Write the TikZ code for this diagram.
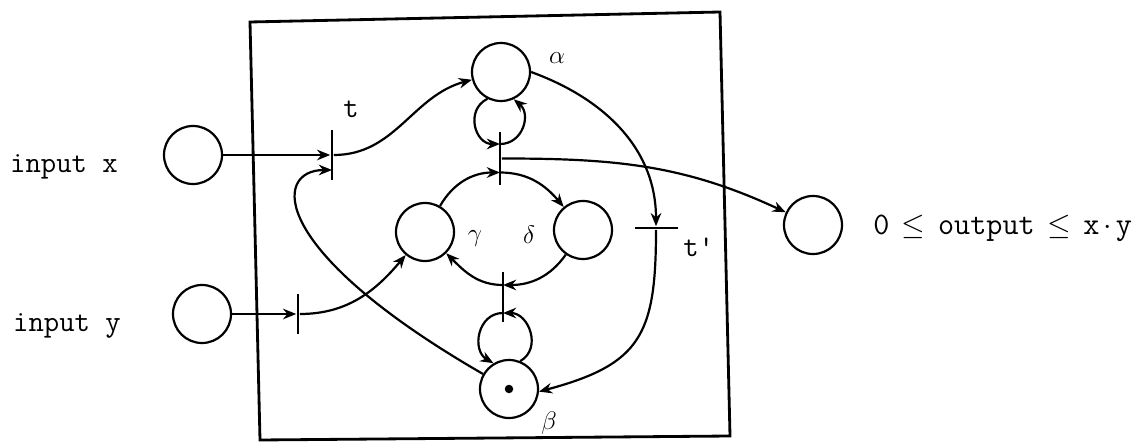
\documentclass[tikz,border=0pt]{standalone}
\usepackage{amsmath,amssymb}
\usepackage{tikz}
\usetikzlibrary{arrows.meta}
\usetikzlibrary{backgrounds,calc}
\pgfdeclarelayer{edgelayer}
\pgfdeclarelayer{nodelayer}
\pgfsetlayers{background,edgelayer,nodelayer,main}
\tikzstyle{none}=[inner sep=0mm]
\tikzstyle{place}=[shape=circle,draw=black,line width=1.25pt,minimum size=1.16cm,inner sep=0pt]
\tikzstyle{token}=[shape=circle,fill=black,minimum size=0.17cm,inner sep=0pt]
\tikzstyle{vbar}=[shape=rectangle,fill=black,minimum width=1.6pt,minimum height=1cm,inner sep=0pt]
\tikzstyle{hbar}=[shape=rectangle,fill=black,minimum height=1.6pt,minimum width=0.86cm,inner sep=0pt]
\tikzstyle{flow}=[line width=1.25pt]
\tikzstyle{diredge}=[flow,-{Stealth[length=7.5pt,width=6pt]}]
\tikzstyle{frame}=[line width=1.6pt,line join=miter]
\tikzstyle{tt}=[inner sep=0pt,font=\fontsize{17}{20}\ttfamily]
\tikzstyle{gk}=[inner sep=0pt,font=\fontsize{14}{16}\selectfont]
\newcommand{\lesym}{\makebox[0.525em]{$\le$}}
\newcommand{\dotsym}{\makebox[0.525em]{$\cdot$}}

\begin{document}
\begin{tikzpicture}
	\useasboundingbox (0,0) rectangle (22.72,-8.9);
	\begin{pgfonlayer}{nodelayer}
		% places
		\node [style=place] (inx) at (3.86, -3.10) {};
		\node [style=place] (iny) at (4.04, -6.28) {};
		\node [style=place] (alpha) at (10.02, -1.44) {};
		\node [style=place] (gamma) at (8.50, -4.64) {};
		\node [style=place] (delta) at (11.66, -4.60) {};
		\node [style=place] (beta) at (10.18, -7.78) {};
		\node [style=place] (outp) at (16.26, -4.50) {};
		\node [style=token] (tok) at (10.18, -7.78) {};
		% transitions
		\node [style=vbar] (t) at (6.64, -3.10) {};
		\node [style=vbar, minimum height=0.8cm] (ty) at (5.96, -6.28) {};
		\node [style=vbar, minimum height=1.06cm] (T1) at (10.00, -3.17) {};
		\node [style=vbar] (T2) at (10.06, -5.94) {};
		\node [style=hbar] (tp) at (13.12, -4.56) {};
		% labels
		\node [style=tt, anchor=base] (lx) at (1.28, -3.46) {input x};
		\node [style=tt, anchor=base] (ly) at (1.34, -6.64) {input y};
		\node [style=tt, font=\fontsize{17.8}{20}\ttfamily, anchor=base west] (lout) at (17.46, -4.70) {0 \lesym{} output \lesym{} x\dotsym{}y};
		\node [style=tt, anchor=base] (lt) at (7.02, -2.36) {t};
		\node [style=tt, anchor=base west] (ltp) at (13.66, -5.14) {t'};
		\node [style=gk] (la) at (11.14, -1.16) {$\alpha$};
		\node [style=gk] (lg) at (9.50, -4.78) {$\gamma$};
		\node [style=gk] (ld) at (10.58, -4.70) {$\delta$};
		\node [style=gk] (lb) at (10.98, -8.46) {$\beta$};
	\end{pgfonlayer}
	\begin{pgfonlayer}{edgelayer}
		\draw [style=frame] (5.00, -0.44) -- (14.40, -0.24) -- (14.60, -8.72) -- (5.20, -8.80) -- cycle;
		\draw [style=diredge] (inx) to (t);
		\draw [style=diredge] (iny) to (ty);
		\draw [style=diredge, out=0, in=195] (t) to (alpha);
		\draw [style=diredge, out=0, in=230] (ty) to (gamma);
		\draw [style=diredge, out=150, in=180, out looseness=2.5, in looseness=0.6] (beta) to ([yshift=-0.3cm]t.center);
		\draw [style=diredge, out=60, in=180] (gamma) to ([yshift=-0.28cm]T1.center);
		\draw [style=diredge, out=0, in=130] ([yshift=-0.28cm]T1.center) to (delta);
		\draw [style=diredge, out=235, in=0] (delta) to ([yshift=0.24cm]T2.center);
		\draw [style=diredge, out=180, in=315] ([yshift=0.24cm]T2.center) to (gamma);
		% self loops
		\draw [style=diredge, out=207, in=180, looseness=1.37] (alpha.243) to ([yshift=0.29cm]T1.center);
		\draw [style=diredge, out=0, in=320, looseness=1.26] ([yshift=0.29cm]T1.center) to (alpha.295);
		\draw [style=diredge, out=180, in=150, looseness=1.28] ([yshift=-0.32cm]T2.center) to (beta.121);
		\draw [style=diredge, out=30, in=0, looseness=1.28] (beta.68) to ([yshift=-0.32cm]T2.center);
		\draw [style=diredge, out=340, in=90, looseness=1.0] (alpha.0) to (tp);
		\draw [style=diredge, out=270, in=15, looseness=1.35] (tp) to (beta.355);
		\draw [style=diredge, out=0, in=155] (T1) to (outp);
	\end{pgfonlayer}
\end{tikzpicture}
\end{document}
